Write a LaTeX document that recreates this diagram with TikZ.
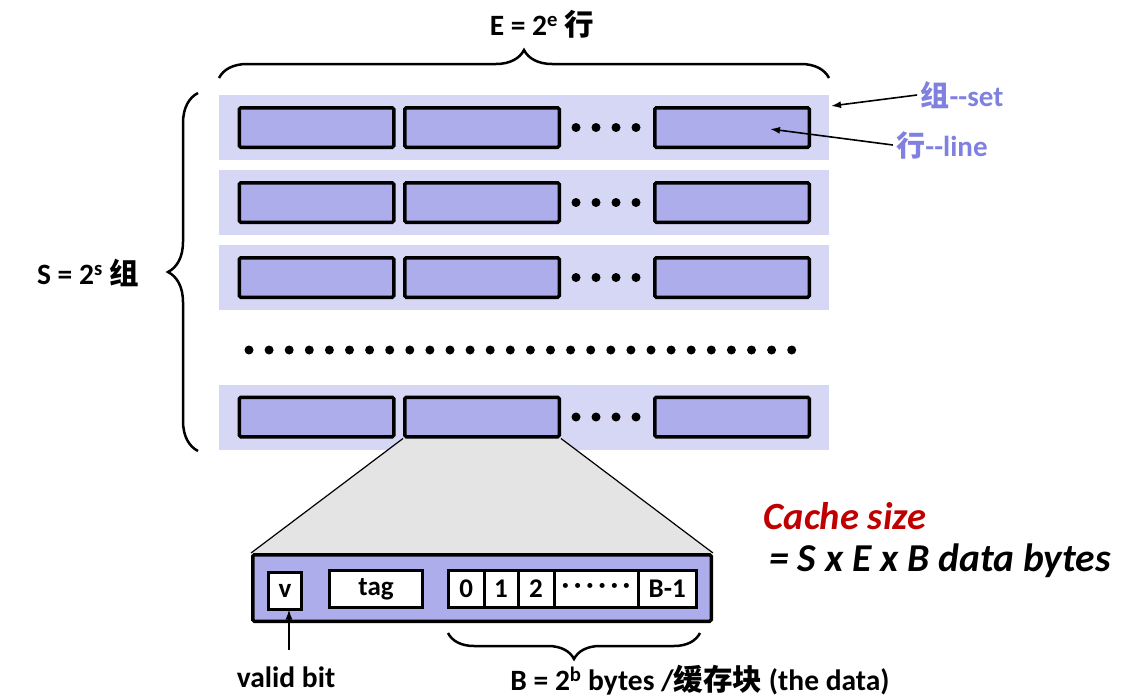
\documentclass[tikz,border=0pt]{standalone}
\usepackage{fontspec}
\setmainfont{Carlito}
\newfontfamily\cjk{Noto Sans CJK SC}
\usetikzlibrary{positioning,decorations.pathreplacing,arrows.meta,backgrounds}

\definecolor{setbg}{RGB}{214,214,245}
\definecolor{linefill}{RGB}{173,173,235}
\definecolor{lblblue}{RGB}{128,128,224}
\definecolor{trapgray}{RGB}{228,228,228}
\definecolor{sizered}{RGB}{192,0,0}
\newcommand{\zh}[1]{{\cjk #1}}

\begin{document}
\begin{tikzpicture}[x=1pt,y=-1pt,>={Latex[length=10pt,width=7pt]}]
        \tikzstyle{set row}=[fill=setbg, minimum width=610pt, minimum height=65pt, inner sep=0pt]
        \tikzstyle{cache line}=[draw, line width=3.5pt, fill=linefill, rounded corners=1.5pt,
            minimum width=154.5pt, minimum height=39.5pt, inner sep=0pt]
        \tikzstyle{field}=[draw, line width=3pt, fill=white, minimum height=37pt, inner sep=0pt,
            outer sep=0pt, font=\fontsize{27}{27}\selectfont\bfseries]
        \tikzstyle{brace}=[decorate, line width=2.5pt]
        \tikzstyle{annot}=[font=\fontsize{29.5}{32}\selectfont\bfseries]
        \tikzstyle{blue annot}=[font=\fontsize{29}{32}\selectfont\bfseries, text=lblblue]
        \tikzstyle{size annot}=[font=\fontsize{39.5}{42}\selectfont\bfseries\itshape]

        \useasboundingbox (0,0) rectangle (1124,699);

        % Draw the sets and their lines
        \foreach \id/\y in {1/127.5,2/202.5,3/277.5,4/417} {
            \begin{scope}[on background layer]
                \node[set row] (S-\id) at (524,\y) {};
            \end{scope}
            \node[cache line] (L-\id-1) at (316.5,\y) {};
            \node[cache line] (L-\id-2) at (482,\y) {};
            \node[cache line] (L-\id-3) at (732,\y) {};
            \foreach \d in {0,...,3}
                \fill (576+20*\d,\y) circle (4.5pt);
        }

        % Dots between the sets
        \foreach \d in {0,...,27}
            \fill (249+20.1*\d,350) circle (4.5pt);

        % Braces and their labels
        \draw[brace, decoration={brace, amplitude=28pt}] (219,78) -- (829,78);
        \draw[brace, decoration={brace, amplitude=30pt}] (198,451) -- (198,93);
        \node[annot] (E-lbl) at (542,24) {E = 2\textsuperscript{e} \zh{行}};
        \node[annot] (S-lbl) at (88,273) {S = 2\textsuperscript{s} \zh{组}};

        % Annotate set and line
        \node[blue annot] (set-lbl) at (962,95) {\zh{组}-{}-set};
        \node[blue annot] (line-lbl) at (942,145) {\zh{行}-{}-line};
        \coordinate (set-tip) at (831,106);
        \coordinate (line-tip) at (770,129);
        \draw[->, line width=1.6pt] (set-lbl.west) -- (set-tip);
        \draw[->, line width=1.6pt] (line-lbl.west) -- (line-tip);

        % Draw the expanded line
        \node[cache line, minimum width=458.5pt, minimum height=66.5pt] (blk) at (482,588) {};
        \begin{scope}[on background layer]
            \fill[trapgray] (L-4-2.south west) -- (L-4-2.south east) -- (blk.north east) -- (blk.north west) -- cycle;
        \end{scope}
        \draw[line width=1.2pt] (L-4-2.south west) -- (blk.north west)
            (L-4-2.south east) -- (blk.north east);

        \node[field, minimum width=33pt] (v) at (285,591) {v};
        \node[field, minimum width=93pt] (tag) at (376,589) {tag\vphantom{T}};
        \node[field, minimum width=35.5pt] (d0) at (466.25,588.5) {0};
        \node[field, minimum width=34pt, right=0pt of d0] (d1) {1};
        \node[field, minimum width=36pt, right=0pt of d1] (d2) {2};
        \node[field, minimum width=84pt, right=0pt of d2] (dd) {·\hspace{5pt}·\hspace{5pt}·\hspace{5pt}·\hspace{5pt}·\hspace{5pt}·};
        \node[field, minimum width=58.5pt, right=0pt of dd] (dB) {B-1};

        % Annotate the fields
        \node[annot] (vb) at (286,677) {valid bit};
        \coordinate (vb-top) at (289,650);
        \draw[->, line width=1.5pt] (vb-top) -- (vb-top |- v.south);
        \draw[brace, decoration={brace, amplitude=26pt}] (700,633) -- (448,633);
        \node[annot] (B-lbl) at (700,680) {B = 2\textsuperscript{b} bytes /\zh{缓存块} (the data)};

        % Cache size
        \node[size annot, text=sizered, font=\fontsize{38.5}{42}\selectfont\bfseries\itshape] (cs) at (845,516) {Cache size};
        \node[size annot] (cf) at (940,561) {= S x E x B data bytes};
\end{tikzpicture}
\end{document}
